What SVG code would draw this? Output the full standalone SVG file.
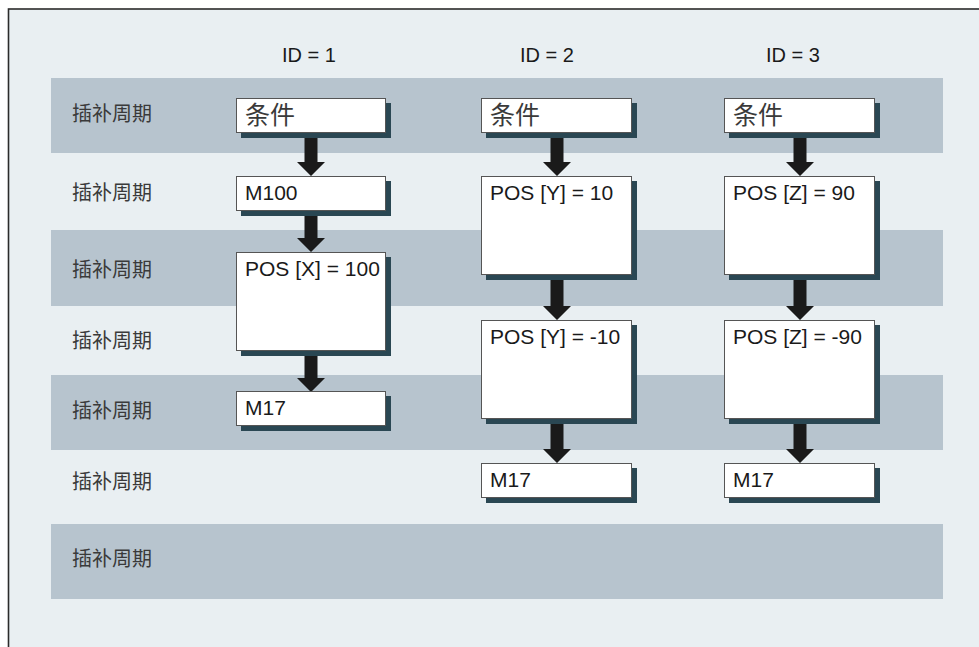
<svg xmlns="http://www.w3.org/2000/svg" width="979" height="647" viewBox="0 0 979 647">
<style>
.band{fill:#b7c4ce}
.lbl{font-family:"Noto Sans CJK SC","Liberation Sans",sans-serif;font-size:20px;fill:#3a3a3a}
.id{font-family:"Liberation Sans",Arial,sans-serif;font-size:20px;fill:#1a1a1a;text-anchor:middle}
.box{fill:#fff;stroke:#555;stroke-width:1}
.sh{fill:#2a4753}
.t{font-family:"Liberation Sans",Arial,sans-serif;font-size:21px;fill:#1a1a1a}
.tc{font-family:"Noto Sans CJK SC","Liberation Sans",sans-serif;font-size:25px;fill:#3a3a3a}
.arr{fill:#1a1a1a}
</style>
<rect x="0" y="0" width="979" height="647" fill="#fff"/>
<rect x="8.5" y="9" width="1000" height="700" fill="#e9eff2" stroke="#2b2b2b" stroke-width="1.6"/>
<g id="bands">
<rect class="band" x="51" y="78" width="892" height="75"/>
<rect class="band" x="51" y="230" width="892" height="76"/>
<rect class="band" x="51" y="375" width="892" height="75"/>
<rect class="band" x="51" y="524" width="892" height="75"/>
</g>
<g id="row-labels">
<text class="lbl" x="72" y="121">插补周期</text>
<text class="lbl" x="72" y="200">插补周期</text>
<text class="lbl" x="72" y="277">插补周期</text>
<text class="lbl" x="72" y="348">插补周期</text>
<text class="lbl" x="72" y="418">插补周期</text>
<text class="lbl" x="72" y="489">插补周期</text>
<text class="lbl" x="72" y="566">插补周期</text>
</g>
<g id="ids">
<text class="id" x="309" y="62">ID = 1</text>
<text class="id" x="547" y="62">ID = 2</text>
<text class="id" x="793" y="62">ID = 3</text>
</g>
<g id="connectors">
<polygon class="arr" points="304.5,137 317.5,137 317.5,162 325,162 311,176 297,162 304.5,162"/>
<polygon class="arr" points="304.5,214 317.5,214 317.5,238 325,238 311,252 297,238 304.5,238"/>
<polygon class="arr" points="304.5,355 317.5,355 317.5,378 325,378 311,392 297,378 304.5,378"/>
<polygon class="arr" points="550.5,137 563.5,137 563.5,162 571,162 557,176 543,162 550.5,162"/>
<polygon class="arr" points="550.5,279 563.5,279 563.5,306 571,306 557,320 543,306 550.5,306"/>
<polygon class="arr" points="550.5,423 563.5,423 563.5,449 571,449 557,463 543,449 550.5,449"/>
<polygon class="arr" points="793.5,137 806.5,137 806.5,162 814,162 800,176 786,162 793.5,162"/>
<polygon class="arr" points="793.5,279 806.5,279 806.5,306 814,306 800,320 786,306 793.5,306"/>
<polygon class="arr" points="793.5,423 806.5,423 806.5,449 814,449 800,463 786,449 793.5,449"/>
</g>
<g id="n1a"><rect class="sh" x="241" y="103" width="150" height="35"/><rect class="box" x="236.5" y="98.5" width="149" height="34"/><text class="tc" x="245" y="124">条件</text></g>
<g id="n1b"><rect class="sh" x="241" y="181" width="150" height="35"/><rect class="box" x="236.5" y="176.5" width="149" height="34"/><text class="t" x="245" y="200">M100</text></g>
<g id="n1c"><rect class="sh" x="241" y="257" width="150" height="99"/><rect class="box" x="236.5" y="252.5" width="149" height="98"/><text class="t" x="245" y="276">POS [X] = 100</text></g>
<g id="n1d"><rect class="sh" x="241" y="396" width="150" height="35"/><rect class="box" x="236.5" y="391.5" width="149" height="34"/><text class="t" x="245" y="415">M17</text></g>
<g id="n2a"><rect class="sh" x="486" y="103" width="151" height="35"/><rect class="box" x="481.5" y="98.5" width="150" height="34"/><text class="tc" x="490" y="124">条件</text></g>
<g id="n2b"><rect class="sh" x="486" y="181" width="151" height="99"/><rect class="box" x="481.5" y="176.5" width="150" height="98"/><text class="t" x="490" y="200">POS [Y] = 10</text></g>
<g id="n2c"><rect class="sh" x="486" y="325" width="151" height="99"/><rect class="box" x="481.5" y="320.5" width="150" height="98"/><text class="t" x="490" y="344">POS [Y] = -10</text></g>
<g id="n2d"><rect class="sh" x="486" y="468" width="151" height="35"/><rect class="box" x="481.5" y="463.5" width="150" height="34"/><text class="t" x="490" y="487">M17</text></g>
<g id="n3a"><rect class="sh" x="729" y="103" width="151" height="35"/><rect class="box" x="724.5" y="98.5" width="150" height="34"/><text class="tc" x="733" y="124">条件</text></g>
<g id="n3b"><rect class="sh" x="729" y="181" width="151" height="99"/><rect class="box" x="724.5" y="176.5" width="150" height="98"/><text class="t" x="733" y="200">POS [Z] = 90</text></g>
<g id="n3c"><rect class="sh" x="729" y="325" width="151" height="99"/><rect class="box" x="724.5" y="320.5" width="150" height="98"/><text class="t" x="733" y="344">POS [Z] = -90</text></g>
<g id="n3d"><rect class="sh" x="729" y="468" width="151" height="35"/><rect class="box" x="724.5" y="463.5" width="150" height="34"/><text class="t" x="733" y="487">M17</text></g>
</svg>
